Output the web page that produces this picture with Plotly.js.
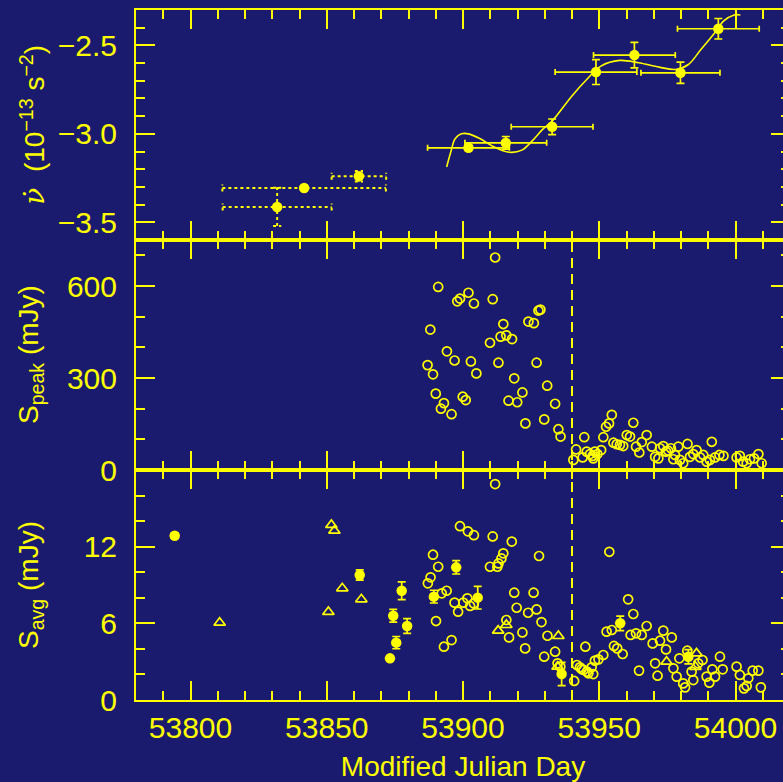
<!DOCTYPE html>
<html><head><meta charset="utf-8">
<script src="https://cdn.plot.ly/plotly-3.0.1.min.js"></script>
<style>html,body{margin:0;padding:0;overflow:hidden;background:#1a1a6e;}</style>
</head><body><div id="chart"></div>
<script>
// ---------- Data ----------
// Panel 1: frequency derivative (10^-13 s^-2)
const nuMJD  = [53902.0, 53915.7, 53932.7, 53948.8, 53962.9, 53979.8, 53993.7];
const nuDot  = [-3.079, -3.051, -2.960, -2.651, -2.555, -2.655, -2.406];
const nuXerr = [15, 15, 15, 15, 15, 14.5, 15];
const nuYerr = [0.015, 0.036, 0.044, 0.070, 0.072, 0.060, 0.058];

const oldMJD  = [53831.8, 53841.7, 53861.8];
const oldNuDot = [-3.413, -3.306, -3.240];
const oldXerr = [20, 30, 10];
const oldYerr = [0.108, 0, 0.03];

const fitMJD = [53894.0, 53895.6, 53897.1, 53899.4, 53902.0, 53906.3, 53910.9, 53917.0, 53921.6, 53925.4, 53929.2, 53932.7, 53939.9, 53946.0, 53950.6, 53957.5, 53964.4, 53972.0, 53978.1, 53982.7, 53987.3, 53991.9, 53995.7, 53999.5, 54001.8];
const fitNuDot = [-3.187, -3.098, -3.028, -3.000, -3.000, -3.028, -3.070, -3.104, -3.092, -3.040, -2.975, -2.928, -2.787, -2.683, -2.617, -2.585, -2.598, -2.623, -2.636, -2.608, -2.523, -2.438, -2.362, -2.328, -2.328];

// Panel 2: peak flux density (mJy)
const peakMJD = [53911.8,53890.9,53902.0,53898.9,53897.9,53904.0,53910.9,53928.4,53927.7,53924.0,53926.0,53914.8,53888.0,53913.8,53915.9,53918.0,53909.9,53894.1,53896.9,53902.9,53887.0,53913.0,53927.0,53889.0,53904.9,53918.8,53930.9,53921.8,53890.0,53899.9,53901.0,53916.7,53919.9,53893.0,53891.9,53933.8,53895.8,53929.8,53922.9,53935.0,53935.8,
  53940.5,53941.5,53944.5,53943.9,53945.4,53946.6,53947.6,53948.4,53947.8,53949.3,53950.7,53951.5,53952.5,53953.6,53954.6,53955.2,53956.4,53957.6,53958.8,53960.1,53961.3,53962.5,53963.5,53964.7,53965.6,53967.4,53969.3,53970.5,53971.7,53972.3,53973.5,53974.5,53975.3,53976.3,53977.2,53977.8,53979.0,53979.6,53980.8,53982.4,53983.3,53984.5,53985.7,53987.0,53988.2,53989.4,53990.6,53991.3,53992.5,53994.1,53995.6,54000.4,54001.6,54002.8,54004.1,54005.3,54006.8,54008.4,54009.6];
const peakFlux = [693,597,578,559,550,543,557,523,520,484,479,476,458,435,439,427,415,387,357,354,342,350,350,312,315,299,275,253,249,239,228,226,221,218,200,216,182,165,152,133,109,
  33,67,107,41,60,52,46,60,38,52,65,107,141,152,180,89,84,82,78,114,109,154,76,57,91,114,76,43,38,71,78,60,63,71,35,49,76,33,22,85,43,52,65,41,49,27,33,92,41,49,46,41,46,27,22,35,38,52,22];

// Panel 3: average flux density (mJy)
const avgOpenMJD = [53911.8,53898.9,53901.8,53904.0,53910.9,53917.9,53889.0,53890.9,53914.8,53914.1,53913.0,53909.9,53912.6,53927.9,53888.1,53887.1,53892.2,53894.0,53896.9,53898.2,53900.1,53901.6,53902.6,53904.0,53890.1,53893.0,53895.8,53918.8,53925.9,53919.7,53923.9,53927.0,53915.9,53916.9,53921.8,53928.8,53931.0,53922.8,53933.8,53929.8,53934.7,53935.7,53940.8,53941.8,53944.9,53943.5,53945.5,
  53942.9,53944.2,53946.0,53947.8,53947.2,53948.4,53949.7,53951.5,53952.7,53954.6,53955.4,53956.6,53958.6,53960.6,53962.5,53961.5,53963.5,53965.6,53967.4,53964.6,53969.6,53972.3,53973.5,53974.5,53976.6,53970.5,53971.4,53977.2,53978.4,53979.4,53980.8,53981.5,53982.3,53983.9,53984.5,53986.3,53987.9,53989.4,53990.4,53991.5,53992.5,53994.3,53995.3,54000.4,54001.6,54003.1,54004.1,54004.7,54006.3,54008.4,54009.3,53953.7];
const avgOpenFlux = [16.9,13.6,13.2,12.9,12.8,12.4,11.37,10.43,11.48,11.08,10.69,10.43,10.43,11.27,9.6,9.13,8.35,8.55,7.62,6.91,7.62,7.96,7.36,7.56,6.18,4.17,4.69,8.40,8.40,7.22,6.83,7.09,6.26,4.90,5.29,6.10,5.03,4.04,3.78,3.39,2.87,2.61,1.49,2.74,4.17,2.43,2.22,
  2.56,2.35,2.09,2.03,2.56,3.08,3.18,3.52,5.35,5.48,4.23,4.04,3.60,7.88,6.73,5.09,5.22,5.09,5.79,2.30,4.43,4.64,5.43,3.96,4.90,2.87,1.90,2.48,1.83,3.26,1.30,0.99,3.86,2.22,1.56,2.87,3.13,1.83,1.36,2.40,1.83,3.39,2.40,2.61,1.96,0.91,1.10,1.70,2.30,2.30,0.99,11.6];

const avgFillMJD  = [53794.2, 53862.1, 53873.2, 53874.4, 53875.5, 53877.5, 53879.5, 53889.3, 53897.5, 53905.4, 53936.2, 53957.7, 53982.7];
const avgFillFlux = [12.86, 9.78, 3.26, 6.60, 4.49, 8.55, 5.79, 8.09, 10.38, 8.01, 2.03, 6.00, 3.39];
const avgFillErr  = [0.2, 0.4, 0.2, 0.5, 0.48, 0.7, 0.58, 0.5, 0.52, 0.89, 0.91, 0.57, 0.56];

const triMJD  = [53810.7, 53850.6, 53851.7, 53852.8, 53855.7, 53862.7, 53912.9, 53915.9, 53935.0, 53934.7, 53974.7, 53985.7, 53985.3];
const triFlux = [6.05, 6.89, 13.7, 13.25, 8.74, 7.88, 5.43, 5.87, 5.01, 2.61, 3.00, 3.65, 2.60];

const transitionMJD = 53940;

// ---------- Style ----------
const YEL = '#ffff00';
const BG = '#1a1a6e';
const FONT = 'Liberation Sans, Arial, sans-serif';

// dotted error bars built from the data arrays
const capNu = 0.02, capDay = 1.5;
const dotX = [], dotY = [];
for (let i = 0; i < oldMJD.length; i++) {
  const x = oldMJD[i], y = oldNuDot[i], xe = oldXerr[i], ye = oldYerr[i];
  dotX.push(x - xe, x + xe, null, x - xe, x - xe, null, x + xe, x + xe, null);
  dotY.push(y, y, null, y - capNu, y + capNu, null, y - capNu, y + capNu, null);
  if (ye > 0) {
    dotX.push(x, x, null, x - capDay, x + capDay, null, x - capDay, x + capDay, null);
    dotY.push(y - ye, y + ye, null, y - ye, y - ye, null, y + ye, y + ye, null);
  }
}

const traces = [
  {x: fitMJD, y: fitNuDot, xaxis: 'x3', yaxis: 'y3', mode: 'lines',
   line: {color: YEL, width: 1.6, shape: 'spline', smoothing: 1}, hoverinfo: 'skip'},
  {x: dotX, y: dotY, xaxis: 'x3', yaxis: 'y3', mode: 'lines',
   line: {color: YEL, width: 2, dash: 'dot'}, hoverinfo: 'skip'},
  {x: oldMJD, y: oldNuDot, xaxis: 'x3', yaxis: 'y3', mode: 'markers',
   marker: {color: YEL, size: 10.5, symbol: 'circle'}},
  {x: nuMJD, y: nuDot, xaxis: 'x3', yaxis: 'y3', mode: 'markers',
   marker: {color: YEL, size: 10.5, symbol: 'circle'},
   error_x: {type: 'data', array: nuXerr, color: YEL, thickness: 1.7, width: 3},
   error_y: {type: 'data', array: nuYerr, color: YEL, thickness: 1.7, width: 4}},
  {x: peakMJD, y: peakFlux, xaxis: 'x2', yaxis: 'y2', mode: 'markers',
   marker: {color: YEL, size: 9, symbol: 'circle-open', line: {color: YEL, width: 1.7}}},
  {x: avgOpenMJD, y: avgOpenFlux, xaxis: 'x', yaxis: 'y', mode: 'markers',
   marker: {color: YEL, size: 9, symbol: 'circle-open', line: {color: YEL, width: 1.7}}},
  {x: triMJD, y: triFlux, xaxis: 'x', yaxis: 'y', mode: 'markers',
   marker: {color: YEL, size: 10, symbol: 'triangle-up-open', line: {color: YEL, width: 1.7}}},
  {x: avgFillMJD, y: avgFillFlux, xaxis: 'x', yaxis: 'y', mode: 'markers',
   marker: {color: YEL, size: 10.5, symbol: 'circle'},
   error_y: {type: 'data', array: avgFillErr, color: YEL, thickness: 1.7, width: 4}}
];

function xax(extra) {
  return Object.assign({
    range: [53780, 54020], showline: true, linewidth: 2, linecolor: YEL,
    mirror: 'allticks', ticks: 'inside', ticklen: 19, tickwidth: 2, tickcolor: YEL,
    tick0: 53800, dtick: 50, tickformat: 'd',
    minor: {ticks: 'inside', ticklen: 9, tickwidth: 2, tickcolor: YEL, tick0: 53780, dtick: 10},
    showgrid: false, zeroline: false,
    tickfont: {family: FONT, size: 30, color: YEL}, ticklabelstandoff: 0
  }, extra);
}
function yax(extra) {
  return Object.assign({
    showline: true, linewidth: 2, linecolor: YEL,
    mirror: 'allticks', ticks: 'inside', ticklen: 19, tickwidth: 2, tickcolor: YEL,
    showgrid: false, zeroline: false,
    tickfont: {family: FONT, size: 30, color: YEL}, ticklabelstandoff: 11
  }, extra);
}

const layout = {
  width: 800, height: 782,
  margin: {l: 136, r: 10, t: 10, b: 82},
  paper_bgcolor: BG, plot_bgcolor: BG, showlegend: false,
  xaxis: xax({anchor: 'y',
    title: {text: 'Modified Julian Day', font: {family: FONT, size: 28, color: YEL}, standoff: 16}}),
  xaxis2: xax({anchor: 'y2', matches: 'x', showticklabels: false}),
  xaxis3: xax({anchor: 'y3', matches: 'x', showticklabels: false}),
  yaxis: yax({domain: [0, 1/3], range: [0, 18], tickmode: 'array', tickvals: [0, 6, 12],
    minor: {ticks: 'inside', ticklen: 9, tickwidth: 2, tickcolor: YEL, tickmode: 'linear', tick0: 0, dtick: 2}}),
  yaxis2: yax({domain: [1/3, 2/3], range: [0, 750], tick0: 0, dtick: 300,
    minor: {ticks: 'inside', ticklen: 9, tickwidth: 2, tickcolor: YEL, dtick: 100}}),
  yaxis3: yax({domain: [2/3, 1], range: [-3.6, -2.3], tick0: -3.5, dtick: 0.5, tickformat: '.1f',
    minor: {ticks: 'inside', ticklen: 9, tickwidth: 2, tickcolor: YEL, dtick: 0.1}}),
  shapes: [
    {type: 'line', xref: 'x', yref: 'paper', x0: transitionMJD, x1: transitionMJD, y0: 0, y1: 2/3,
     line: {color: YEL, width: 2, dash: '10px,6px'}}
  ],
  annotations: [
    {xref: 'paper', yref: 'y3 domain', x: -0.158, y: 0.5, textangle: -90, showarrow: false,
     xanchor: 'center', yanchor: 'middle',
     text: '<span style="font-family:\'DejaVu Serif\';font-style:italic">ν̇</span>  (10<sup>−13</sup> s<sup>−2</sup>)',
     font: {family: FONT, size: 28, color: YEL}},
    {xref: 'paper', yref: 'y2 domain', x: -0.162, y: 0.5, textangle: -90, showarrow: false,
     xanchor: 'center', yanchor: 'middle',
     text: 'S<sub>peak</sub> (mJy)', font: {family: FONT, size: 28, color: YEL}},
    {xref: 'paper', yref: 'y domain', x: -0.162, y: 0.5, textangle: -90, showarrow: false,
     xanchor: 'center', yanchor: 'middle',
     text: 'S<sub>avg</sub> (mJy)', font: {family: FONT, size: 28, color: YEL}}
  ]
};

Plotly.newPlot('chart', traces, layout, {staticPlot: true, displayModeBar: false});
</script></body></html>
